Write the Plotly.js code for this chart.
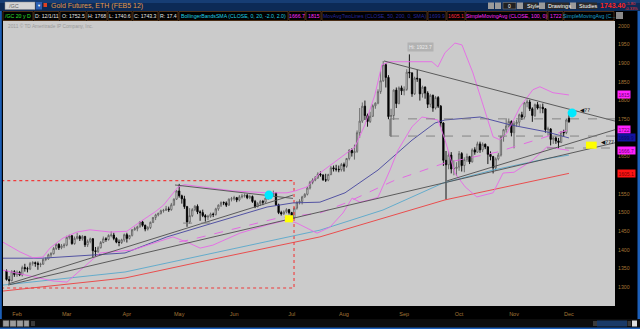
<!DOCTYPE html>
<html><head><meta charset="utf-8">
<script src="https://cdn.plot.ly/plotly-3.0.1.min.js"></script>
<style>html,body{margin:0;padding:0;background:#000;overflow:hidden}#chart{width:640px;height:329px}</style>
</head><body><div id="chart"></div>
<script>
// ---- Daily bars, /GC Feb-12 contract, 26 Jan 2011 .. 1 Dec 2011 ----
// x position = trading-day offset from 1 Feb 2011
const barStart = -4;
const open = [1344,1321,1318,1342,
1334,1340,1333,1353,1350,1349,1364,1366,1364,1361,1362,1375,1376,1387,1390,1404,1415,1406,1411,
1413,1434,1438,1417,1431,1436,1430,1436,1414,1423,1430,1398,1396,1406,1420,1430,1428,1439,1440,1431,1421,1420,1427,
1441,1431,1439,1454,1457,1462,1475,1466,1456,1460,1474,1487,1494,1498,1505,1506,1510,1508,1521,1536,
1558,1545,1537,1516,1475,1492,1508,1517,1502,1500,1492,1488,1490,1496,1495,1510,1520,1527,1526,1520,1536,
1537,1540,1534,1542,1544,1546,1540,1543,1530,1516,1524,1530,1528,1539,1541,1549,1552,1521,1500,1497,1502,1508,
1500,1486,1512,1528,1530,1542,1549,1566,1581,1587,1593,1603,1601,1588,1587,1602,1620,1617,1616,1615,
1629,1624,1645,1667,1660,1664,1714,1745,1785,1760,1744,1758,1786,1793,1824,1853,1896,1862,1757,1760,1828,1792,1834,
1826,1830,1876,1874,1818,1860,1858,1818,1836,1820,1790,1814,1780,1808,1785,1740,1640,1628,1654,1617,1618,
1622,1658,1626,1642,1650,1636,1668,1662,1684,1668,1683,1676,1656,1650,1620,1644,1654,1704,1722,1732,1744,
1714,1738,1742,1762,1756,1794,1796,1778,1760,1789,1780,1782,1778,1722,1724,1696,1700,1692,1688,1716,1714,
1752.5];
const high = [1348,1330,1346,1346,
1345,1344,1358,1363,1355,1368,1370,1369,1369,1366,1377,1380,1390,1394,1408,1418,1418,1416,1418,
1438,1441,1440,1436,1446,1440,1440,1438,1428,1433,1432,1408,1410,1424,1436,1434,1442,1450,1446,1434,1428,1430,1444,
1446,1440,1456,1462,1465,1477,1478,1468,1464,1476,1488,1497,1500,1508,1510,1518,1516,1526,1538,1560,
1577,1548,1545,1518,1512,1512,1520,1522,1506,1508,1496,1494,1500,1500,1513,1522,1530,1530,1530,1538,1542,
1545,1542,1547,1550,1551,1550,1548,1546,1534,1528,1534,1534,1542,1545,1552,1559,1554,1524,1505,1506,1512,1510,
1502,1514,1530,1536,1545,1552,1570,1585,1592,1598,1608,1610,1602,1604,1604,1625,1626,1628,1626,1633,
1634,1646,1670,1672,1682,1720,1780,1795,1800,1765,1770,1790,1795,1830,1878,1906,1900,1868,1778,1830,1835,1838,1840,
1838,1884,1923.7,1876,1864,1882,1860,1840,1838,1825,1818,1816,1812,1812,1788,1742,1665,1664,1662,1640,1635,
1665,1662,1648,1658,1652,1672,1675,1690,1690,1688,1685,1678,1664,1652,1648,1660,1706,1724,1750,1752,1747,
1745,1748,1765,1770,1796,1803,1802,1782,1792,1796,1790,1792,1780,1730,1726,1704,1704,1700,1718,1722,1752,
1768];
const low = [1318,1312,1316,1328,
1328,1330,1329,1342,1340,1346,1358,1355,1347,1354,1360,1370,1374,1380,1388,1400,1400,1402,1405,
1410,1428,1414,1414,1428,1424,1425,1408,1408,1418,1380,1384,1392,1404,1418,1422,1425,1434,1426,1418,1410,1416,1422,
1420,1428,1436,1452,1450,1460,1462,1450,1452,1456,1472,1480,1490,1495,1500,1505,1502,1505,1518,1534,
1540,1524,1510,1462,1470,1488,1504,1496,1478,1488,1476,1480,1486,1488,1492,1505,1515,1520,1515,1518,1530,
1532,1528,1530,1538,1540,1536,1536,1526,1512,1514,1518,1520,1526,1534,1538,1544,1518,1496,1492,1494,1498,1495,
1478,1484,1508,1522,1522,1540,1546,1562,1576,1584,1590,1596,1585,1582,1584,1600,1610,1610,1608,1610,
1610,1620,1640,1650,1642,1660,1700,1740,1748,1730,1740,1756,1778,1790,1818,1850,1835,1750,1703,1748,1780,1790,1815,
1814,1826,1860,1810,1815,1850,1800,1808,1805,1780,1782,1770,1776,1780,1728,1625,1535,1616,1605,1600,1598,
1612,1610,1608,1636,1630,1634,1655,1660,1660,1662,1670,1630,1640,1605,1612,1640,1650,1690,1714,1728,1704,
1672,1730,1732,1748,1752,1782,1772,1743,1756,1776,1766,1766,1714,1706,1680,1684,1684,1672,1686,1704,1710,
1740.6];
const close = [1321,1318,1342,1334,
1340,1333,1353,1350,1349,1364,1366,1364,1361,1362,1375,1376,1387,1390,1404,1415,1406,1411,1413,
1434,1438,1417,1431,1436,1430,1436,1414,1423,1430,1398,1396,1406,1420,1430,1428,1439,1440,1431,1421,1420,1427,1441,
1431,1439,1454,1457,1462,1475,1466,1456,1460,1474,1487,1494,1498,1505,1506,1510,1508,1521,1536,1558,
1545,1537,1516,1475,1492,1508,1517,1502,1500,1492,1488,1490,1496,1495,1510,1520,1527,1526,1520,1536,1537,
1540,1534,1542,1544,1546,1540,1543,1530,1516,1524,1530,1528,1539,1541,1549,1552,1521,1500,1497,1502,1508,1500,
1486,1512,1528,1530,1542,1549,1566,1581,1587,1593,1603,1601,1588,1587,1602,1620,1617,1616,1615,1629,
1624,1645,1667,1660,1664,1714,1745,1785,1760,1744,1758,1786,1793,1824,1853,1896,1862,1757,1760,1828,1792,1834,1826,
1830,1876,1874,1818,1860,1858,1818,1836,1820,1790,1814,1780,1808,1785,1740,1640,1628,1654,1617,1618,1622,
1658,1626,1642,1650,1636,1668,1662,1684,1668,1683,1676,1656,1650,1620,1644,1654,1704,1722,1732,1744,1714,
1738,1742,1762,1756,1794,1796,1778,1760,1789,1780,1782,1778,1722,1724,1696,1700,1692,1688,1716,1714,1748,
1743.3];
const lastTrade = '1743.40';

// axis labels (1600 and 1700 are hidden behind value badges in the reference)
const monthLabels = ['Feb','Mar','Apr','May','Jun','Jul','Aug','Sep','Oct','Nov','Dec'];
const monthBars   = [0,19,42,62,83,105,125,148,169,190,211];
const priceTicks  = [1300,1350,1400,1450,1500,1550,1650,1750,1800,1850,1900,1950,2000];

// studies (bar offset, price)
const bbUpperX = [-5.4,1.1,6.1,9.9,12.6,17.6,22.9,27.9,35.6,42,47,50,53,56,59,61.5,64,70,82.6,95.6,103.2,106.3,110.9,115.8,122.3,129.2,133,136.8,139.5,142.6,151,158.6,160.9,163.6,167.4,170.1,174.3,179.7,182,184.6,187.3,192.3,197.2,199.9,204.9,211];
const bbUpperY = [1421,1395,1379,1381,1405,1432,1448,1454,1448,1450,1475,1488,1503,1520,1545,1568,1575,1570,1558,1553,1553,1558,1569,1606,1641,1676,1735,1815,1896,1904,1904,1904,1890,1928,1954,1949,1874,1756,1703,1695,1713,1783,1829,1837,1821,1815];
const bbLowerX = [-5.4,6.1,13.8,19.1,24.1,31.7,44.3,49.7,59.6,65,70,74.9,85.2,95.6,103.2,107,110.9,114.7,119.6,124.6,128.1,131.1,134.9,138,142.6,145.6,151,154.8,160.9,163.6,167.4,171.3,175.8,182,185.8,190,197.2,202.6,206,211];
const bbLowerY = [1346,1328,1317,1314,1344,1392,1400,1413,1435,1421,1405,1413,1445,1467,1480,1472,1459,1445,1461,1499,1539,1528,1534,1541,1614,1667,1730,1756,1748,1695,1606,1569,1542,1553,1606,1608,1641,1676,1672,1666.7];
const sma50X  = [-5.4,9.6,41.3,57.3,74.9,95.6,105.5,115.8,125.4,138,151,159.8,163.6,173.2,177,188.5,202.6,211];
const sma50Y  = [1378,1378,1392,1435,1472,1515,1526,1528,1553,1614,1694,1740,1748,1754,1756,1735,1716,1699.9];
const sma200X = [-5.4,41.3,70,115.8,163.6,211];
const sma200Y = [1290,1325,1368,1435,1534,1605.1];
const sma100X = [62,66.1,99.4,115.8,125.4,144.5,163.6,173.2,183.5,211];
const sma100Y = [1422,1427,1485,1499,1525,1587,1633,1646,1662,1722];
const smaTealX = [-5.4,41.3,115.8,139.9,162.8,182,203.7,211];
const smaTealY = [1306,1341,1453,1507,1579,1614,1646,1654];

// drawings
const trendSolid = [
  {x:[60.4,105.5], y:[1574,1538]},
  {x:[-3.4,105.5], y:[1309,1547]},
  {x:[-3.4,228.6], y:[1306,1687]},
  {x:[164.4,228.6], y:[1585,1722]},
  {x:[140.3,228.6], y:[1906,1745]},
  {x:[142.6,142.6], y:[1751,1705]}
];
const trendDashed = [
  {x:[142.6,228.6], y:[1751,1751]},
  {x:[142.6,228.6], y:[1705,1705]},
  {x:[202.6,228.6], y:[1673,1673]},
  {x:[63.5,75.7], y:[1472,1472]}
];
const redBoxX = [-6,105.9];
const redBoxY = [1298.2,1585.6];
const cyanX = [96.3,212.2];
const cyanY = [1547,1767];
const yellowBoxes = [{x:[102.4,105.5], y:[1474,1493]}, {x:[217.5,221.6], y:[1671,1690]}];
const alertLabels = [{x:214.4, y:1774, t:'◀??'}, {x:222.6, y:1688, t:'◀???'}];

// ---------------------------------------------------------------
const xs = open.map((_, i) => barStart + i);
const line = (x, y, color, width, dash) => ({type:'scatter', mode:'lines', x, y,
  line:{color, width, dash: dash || 'solid'}, hoverinfo:'skip', showlegend:false});

const traces = [];
traces.push(line([redBoxX[0],redBoxX[1],redBoxX[1],redBoxX[0]], [redBoxY[1],redBoxY[1],redBoxY[0],redBoxY[0]], '#f03a3a', 1.1, 'dot'));
traces.push(line(sma200X, sma200Y, '#ec4040', 0.9));
traces.push(line(smaTealX, smaTealY, '#58a8cc', 0.9));
traces.push(line(sma50X, sma50Y, '#45459e', 0.9));
traces.push(line(sma100X, sma100Y, '#e460e4', 0.9, 'dash'));
traces.push(line(bbUpperX, bbUpperY, '#e868e8', 0.9));
traces.push(line(bbLowerX, bbLowerY, '#e868e8', 0.9));
trendSolid.forEach(t => traces.push(line(t.x, t.y, '#4e4e4e', 0.9)));
trendDashed.forEach(t => traces.push(line(t.x, t.y, '#7c7c7c', 0.9, 'dash')));
traces.push({type:'candlestick', x:xs, open, high, low, close,
  increasing:{line:{color:'#606060', width:0.9}, fillcolor:'#ffffff'},
  decreasing:{line:{color:'#000000', width:0.9}, fillcolor:'#000000'},
  whiskerwidth:0, hoverinfo:'skip', showlegend:false});
yellowBoxes.forEach(b => traces.push({type:'scatter', mode:'lines',
  x:[b.x[0],b.x[1],b.x[1],b.x[0],b.x[0]], y:[b.y[0],b.y[0],b.y[1],b.y[1],b.y[0]],
  fill:'toself', fillcolor:'#ffff00', line:{width:0, color:'#ffff00'}, hoverinfo:'skip', showlegend:false}));
traces.push({type:'scatter', mode:'markers', x:cyanX, y:cyanY,
  marker:{size:9, color:'#00e8ff', line:{width:0}}, hoverinfo:'skip', showlegend:false});

// ---- page decoration helpers (pixel -> paper) ----
const PX = x => (x - 3) / 612;
const PY = y => (306 - y) / 285;
const shapes = [];
const ann = [];
const rect = (x0,y0,x1,y1,fill,lc,lw) => shapes.push({type:'rect', xref:'paper', yref:'paper',
  x0:PX(x0), x1:PX(x1), y0:PY(y1), y1:PY(y0), fillcolor:fill, line:{color:lc||fill, width:lw||0}, layer:'above'});
const txt = (x,y,t,color,size,anchor,extra) => ann.push(Object.assign({xref:'paper', yref:'paper',
  x:PX(x), y:PY(y), text:t, showarrow:false, xanchor:anchor||'left', yanchor:'middle',
  font:{family:'Liberation Sans, Arial, sans-serif', size:size, color:color}}, extra||{}));

// header bar
rect(0,0,640,11,'#0c2a56');
rect(0,0,640,3,'#163d74');
rect(5,2,35,9.5,'#d4d4d4','#8a8a8a',0.5);
txt(7,5.8,'/GC','#666666',5.5);
rect(36,2,42,9.5,'#2b5db0');
txt(39,5.8,'▼','#ffffff',4,'center');
rect(43.5,3,47,7,'#e04020');
txt(48.5,5.8,'Gold Futures, ETH (FEB5 12)','#e29a4c',7);
rect(488,2.5,494,9,'#9a9a9a'); rect(495,2.5,501,9,'#9a9a9a');
rect(503,2.5,516,9,'#202020','#8a8a8a',0.5); txt(509.5,5.8,'0','#ffffff',5,'center');
rect(517,2.5,523,9,'#9a9a9a'); rect(523.5,2.5,538,9,'#2a2a2a'); txt(524.5,5.8,'Style','#ffffff',5.5);
rect(539,2.5,545,9,'#9a9a9a'); rect(545.5,2.5,569,9,'#2a2a2a'); txt(546,5.8,'Drawings','#ffffff',5.5);
rect(570,2.5,576,9,'#9a9a9a'); rect(576.5,2.5,597,9,'#2a2a2a'); txt(577,5.8,'Studies','#ffffff',5.5);
txt(597.5,5.8,'<b>'+lastTrade+'</b>','#ff2424',7);
txt(624,3.4,'-5.80','#ff3030',4);
txt(623,8.2,'-0.33%','#ff3030',4);

// info row
const infoRow = [
  [3,33,'/GC 20 y D','#2fe02f'], [34,59,'D: 12/1/11','#e6e6e6'], [60,86,'O: 1752.5','#e6e6e6'],
  [87,107,'H: 1768','#e6e6e6'], [108,132,'L: 1740.6','#e6e6e6'], [133,158,'C: 1743.3','#e6e6e6'],
  [159,178,'R: 17.4','#e6e6e6'], [179,288,'BollingerBandsSMA (CLOSE, 0, 20, -2.0, 2.0)','#1ed2e2'],
  [289,305,'1666.7','#ff2aff'], [306,321,'1815','#ff2aff'],
  [322,427,'MovAvgTwoLines (CLOSE, 50, 200, 0, SMA)','#28289c'], [428,446,'1699.9','#28289c'],
  [447,465,'1605.1','#ff2a40'], [466,547,'SimpleMovingAvg (CLOSE, 100, 0)','#ff2aff'],
  [548,563,'1722','#ff2aff'], [564,614,'SimpleMovingAvg (C...','#1aa0d0']
];
infoRow.forEach(r => {
  rect(r[0],11.5,r[1],20.5,'rgba(0,0,0,0)','#5e3a1c',0.8);
  txt((r[0]+r[1])/2,16.2,r[2],r[3],5.2,'center');
});
rect(616,12,623,19,'#8a8a8a');

// side blue borders and bottom bar
rect(0,11,1.8,321,'#1c5fb8');
rect(637.5,11,640,321,'#1c5fb8');
rect(0,319,640,327.5,'#0d0d0d');
rect(0,327.5,640,329,'#1c5fb8');
[[3,9],[10,16],[17,23],[24,29]].forEach(b => rect(b[0],320.5,b[1],326.5,'#9c9c9c','#5a5a5a',0.5));
rect(31,321,35,326,'#3a3a3a');
rect(593,321,597,326,'#3a3a3a');
rect(597,320.5,627,326.5,'#193a68');
rect(627.5,321,631,326,'#3a3a3a');
rect(632,320.5,637,326.5,'#e0e0e0');

// copyright
txt(6,25.5,'2011 © TD Ameritrade IP Company, Inc.','#9a9a9a',4.8);

// Hi label
const hiVal = Math.max(...high);
ann.push({xref:'x', yref:'y', x:154.4, y:1944, text:'Hi: '+hiVal.toFixed(1), showarrow:false,
  bgcolor:'#b2b2b2', borderpad:1, font:{family:'Liberation Sans, Arial', size:5, color:'#ececec'}});
// alert labels
alertLabels.forEach(a => ann.push({xref:'x', yref:'y', x:a.x, y:a.y, text:a.t, showarrow:false,
  xanchor:'left', font:{family:'DejaVu Sans', size:5.5, color:'#111111'}}));

// right-axis value badges
const badges = [
  [bbUpperY[bbUpperY.length-1], '1815', '#ff22ff', '#6a006a'],
  [sma100Y[sma100Y.length-1], '1722', '#ff22ff', '#6a006a'],
  [sma50Y[sma50Y.length-1], '1699.9', '#1414a0', '#0a0a60'],
  [bbLowerY[bbLowerY.length-1], '1666.7', '#ff22ff', '#6a006a'],
  [sma200Y[sma200Y.length-1], '1605.1', '#ff1414', '#7a0000']
];
badges.forEach(b => ann.push({xref:'paper', yref:'y', x:1, xshift:1.5, y:b[0], text:b[1], showarrow:false,
  xanchor:'left', bgcolor:b[2], borderpad:0.5,
  font:{family:'Liberation Sans, Arial', size:5, color:b[3]}}));

const layout = {
  width:640, height:329,
  margin:{l:3, r:25, t:21, b:23, pad:0},
  paper_bgcolor:'#000000', plot_bgcolor:'#cbcbcb',
  showlegend:false,
  xaxis:{range:[-5.35,228.6], tickvals:monthBars, ticktext:monthLabels, showgrid:false, zeroline:false,
    ticks:'', showline:false, rangeslider:{visible:false}, fixedrange:true, ticklabelstandoff:3,
    tickfont:{family:'Liberation Sans, Arial', size:5.5, color:'#a47636'}},
  yaxis:{range:[1250,2013], side:'right', tickvals:priceTicks, showgrid:false, zeroline:false,
    ticks:'', showline:false, fixedrange:true, ticklabelstandoff:2,
    tickfont:{family:'Liberation Sans, Arial', size:5.2, color:'#a47636'}},
  shapes, annotations:ann
};
Plotly.newPlot('chart', traces, layout, {staticPlot:true, displayModeBar:false});
</script></body></html>
